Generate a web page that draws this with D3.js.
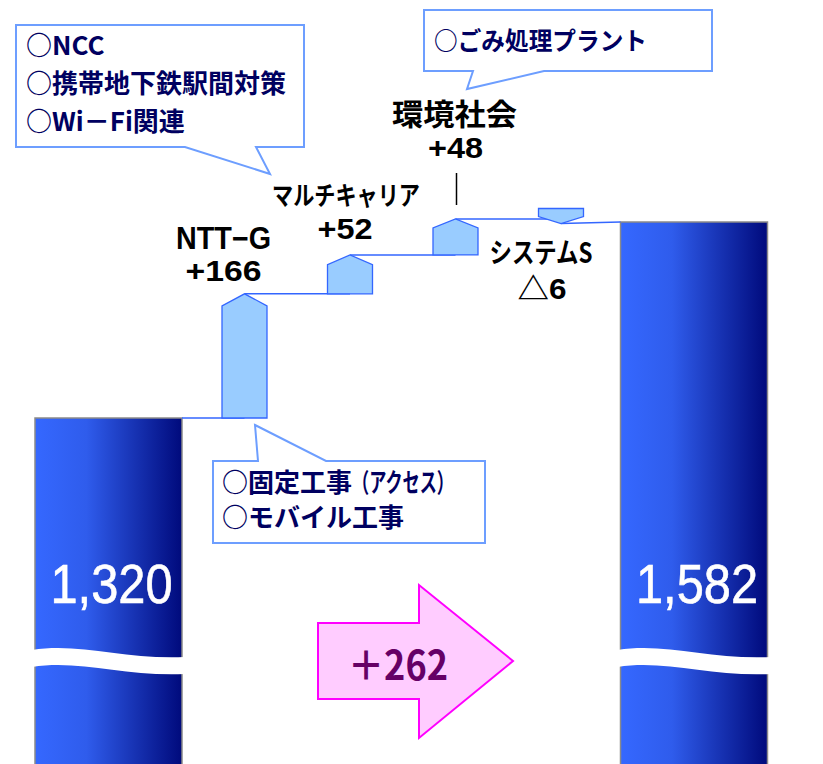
<!DOCTYPE html>
<html><head><meta charset="utf-8">
<script src="https://cdn.jsdelivr.net/npm/d3@7"></script>
<style>html,body{margin:0;padding:0;background:#fff;}svg{display:block;}</style>
</head><body>
<svg id="chart" width="823" height="764"></svg>
<script>
// ---------------- data ----------------
const totalNames = ["前期", "当期"];
const totalValues = [1320, 1582];
const stepNames = ["NTT−G", "マルチキャリア", "環境社会", "システムS"];
const stepValues = [166, 52, 48, -6];
const stepLabels = ["+166", "+52", "+48", "△6"];
const changeLabel = "＋262";
const calloutA = ["○NCC", "○携帯地下鉄駅間対策", "○Wi－Fi関連"];
const calloutB = ["○ごみ処理プラント"];
const calloutC = [["○固定工事", "（アクセス）"], ["○モバイル工事", ""]];

// ---------------- layout ----------------
const svg = d3.select("#chart");
const W = 823, H = 764;
const JP = "'Noto Sans CJK JP', 'Noto Sans', sans-serif";
const LAT = "'Liberation Sans', Arial, 'Noto Sans CJK JP', sans-serif";

const y = d3.scaleLinear().domain([1320, 1582]).range([418, 222]);
const xTotal = d3.scalePoint().domain(totalNames).range([108.5, 694]);
const barW = 147;
const xStep = d3.scalePoint().domain(stepNames).range([244.5, 561]);
const stepW = 45;

let run = totalValues[0];
const steps = stepNames.map((n, i) => {
  const base = run; run += stepValues[i];
  return {name: n, value: stepValues[i], label: stepLabels[i], base, cum: run};
});

const defs = svg.append("defs");
const grad = defs.append("linearGradient").attr("id", "barGrad")
  .attr("x1", "0%").attr("x2", "100%").attr("y1", "0%").attr("y2", "0%");
grad.append("stop").attr("offset", "0%").attr("stop-color", "#3568ff");
grad.append("stop").attr("offset", "35%").attr("stop-color", "#2f5cec");
grad.append("stop").attr("offset", "100%").attr("stop-color", "#000a7c");

// ---------------- total bars ----------------
const bars = svg.append("g");
totalNames.forEach((n, i) => {
  const cx = xTotal(n), x0 = cx - barW / 2;
  bars.append("rect").attr("x", x0).attr("y", y(totalValues[i]))
    .attr("width", barW).attr("height", H + 10 - y(totalValues[i]))
    .attr("fill", "url(#barGrad)").attr("stroke", "#8a8a8a").attr("stroke-width", 1.5);
  const yb = 650, th = 17, x1 = x0 + barW;
  const wave = `M${x0 - 3},${yb} C${x0 + barW * 0.3},${yb - 8} ${x0 + barW * 0.62},${yb + 10} ${x1 + 3},${yb + 7}
    L${x1 + 3},${yb + 7 + th} C${x0 + barW * 0.62},${yb + 10 + th} ${x0 + barW * 0.3},${yb - 8 + th} ${x0 - 3},${yb + th} Z`;
  bars.append("path").attr("d", wave).attr("fill", "#fff");
  bars.append("text").attr("x", cx + 3).attr("y", 603)
    .attr("text-anchor", "middle").attr("fill", "#fff")
    .attr("font-family", LAT)
    .attr("font-size", 55).attr("stroke", "#fff").attr("stroke-width", 0.6)
    .attr("textLength", 122).attr("lengthAdjust", "spacingAndGlyphs")
    .text(d3.format(",")(totalValues[i]));
});

// ---------------- connectors ----------------
const conn = svg.append("g").attr("stroke", "#3366ff").attr("stroke-width", 1.5).attr("fill", "none");
conn.append("line").attr("x1", xTotal(totalNames[0]) + barW / 2).attr("x2", xStep(steps[0].name))
  .attr("y1", y(steps[0].base)).attr("y2", y(steps[0].base));
for (let i = 0; i < steps.length - 1; i++) {
  conn.append("line").attr("x1", xStep(steps[i].name)).attr("x2", xStep(steps[i + 1].name))
    .attr("y1", y(steps[i].cum)).attr("y2", y(steps[i].cum));
}
const last = steps[steps.length - 1];
conn.append("line").attr("x1", xStep(last.name)).attr("x2", xTotal(totalNames[1]) - barW / 2)
  .attr("y1", y(last.cum)).attr("y2", y(totalValues[1]));

// ---------------- step markers ----------------
const mk = svg.append("g");
steps.forEach(s => {
  const cx = xStep(s.name), x0 = cx - stepW / 2, x1 = cx + stepW / 2;
  let pts;
  if (s.value >= 0) {
    const yb = y(s.base), yp = y(s.cum);
    const head = Math.min(12, (yb - yp) * 0.25);
    pts = [[x0, yb], [x0, yp + head], [cx, yp], [x1, yp + head], [x1, yb]];
  } else {
    const yp = y(s.cum);
    const yt = Math.min(y(s.base), yp - 15);
    pts = [[x0, yt], [x1, yt], [x1, yp - 7], [cx, yp], [x0, yp - 7]];
  }
  mk.append("path").attr("d", d3.line()(pts) + "Z")
    .attr("fill", "#99ccff").attr("stroke", "#3366ff").attr("stroke-width", 1.3);
});

// ---------------- step labels ----------------
const lab = svg.append("g").attr("font-weight", "bold")
  .attr("fill", "#000").attr("text-anchor", "middle");
function t(x, yy, size, len, txt, fam) {
  return lab.append("text").attr("x", x).attr("y", yy).attr("font-size", size)
    .attr("font-family", fam)
    .attr("textLength", len).attr("lengthAdjust", "spacingAndGlyphs").text(txt);
}
{ const s = steps[0], cx = xStep(s.name) - 21, yp = y(s.cum);
  t(cx, yp - 45, 31, 95, s.name, LAT); t(cx, yp - 13, 30, 76, s.label, LAT); }
{ const s = steps[1], cx = xStep(s.name) - 4, yp = y(s.cum);
  t(cx, yp - 50, 26, 148, s.name, JP); t(cx - 1, yp - 16, 30, 55, s.label, LAT); }
{ const s = steps[2], cx = xStep(s.name), yp = y(s.cum);
  t(cx - 1, yp - 94, 30, 125, s.name, JP); t(cx, yp - 61, 30, 55, s.label, LAT);
  svg.append("line").attr("x1", cx + 1).attr("x2", cx + 1).attr("y1", yp - 46).attr("y2", yp - 14)
    .attr("stroke", "#000").attr("stroke-width", 1.5); }
{ const s = steps[3], cx = xStep(s.name) - 20, yp = y(s.cum);
  t(cx, yp + 40, 28, 103, s.name, JP); t(cx + 1, yp + 76, 30, 49, s.label, LAT); }

// ---------------- callouts ----------------
const co = svg.append("g");
function box(d) {
  co.append("path").attr("d", d).attr("fill", "#fff").attr("stroke", "#6d9eff").attr("stroke-width", 2);
}
function line(x, yy, size, txt, len) {
  const e = co.append("text").attr("x", x).attr("y", yy)
    .attr("font-family", JP).attr("font-weight", "bold").attr("font-size", size)
    .attr("fill", "#000060").text(txt);
  if (len) e.attr("textLength", len).attr("lengthAdjust", "spacingAndGlyphs");
  return e;
}
box("M16,25H304V147H256L270,174L185,147H16Z");
calloutA.forEach((l, i) => line(26, 55 + i * 38, 26, l));
box("M424,10H712V71H544L467,89L473,71H424Z");
calloutB.forEach((l, i) => line(434, 50, 25, l, 213));
box("M213,461H258L255,425L326,461H485V543H213Z");
calloutC.forEach((l, i) => {
  const yy = 492 + i * 35;
  line(222, yy, 26, l[0]);
  if (l[1]) line(352, yy, 26, l[1], 102);
});

// ---------------- change arrow ----------------
const ax0 = 318, ax1 = 419, atip = 513, ayc = 661;
svg.append("path")
  .attr("d", `M${ax0},${ayc - 38}H${ax1}V${ayc - 76}L${atip},${ayc}L${ax1},${ayc + 77}V${ayc + 38}H${ax0}Z`)
  .attr("fill", "#ffccff").attr("stroke", "#ff00ff").attr("stroke-width", 2);
svg.append("text").attr("x", 398).attr("y", 680).attr("text-anchor", "middle")
  .attr("font-family", JP).attr("font-weight", "bold").attr("font-size", 40)
  .attr("fill", "#660066").attr("textLength", 100).attr("lengthAdjust", "spacingAndGlyphs")
  .text(changeLabel);
</script>
</body></html>
